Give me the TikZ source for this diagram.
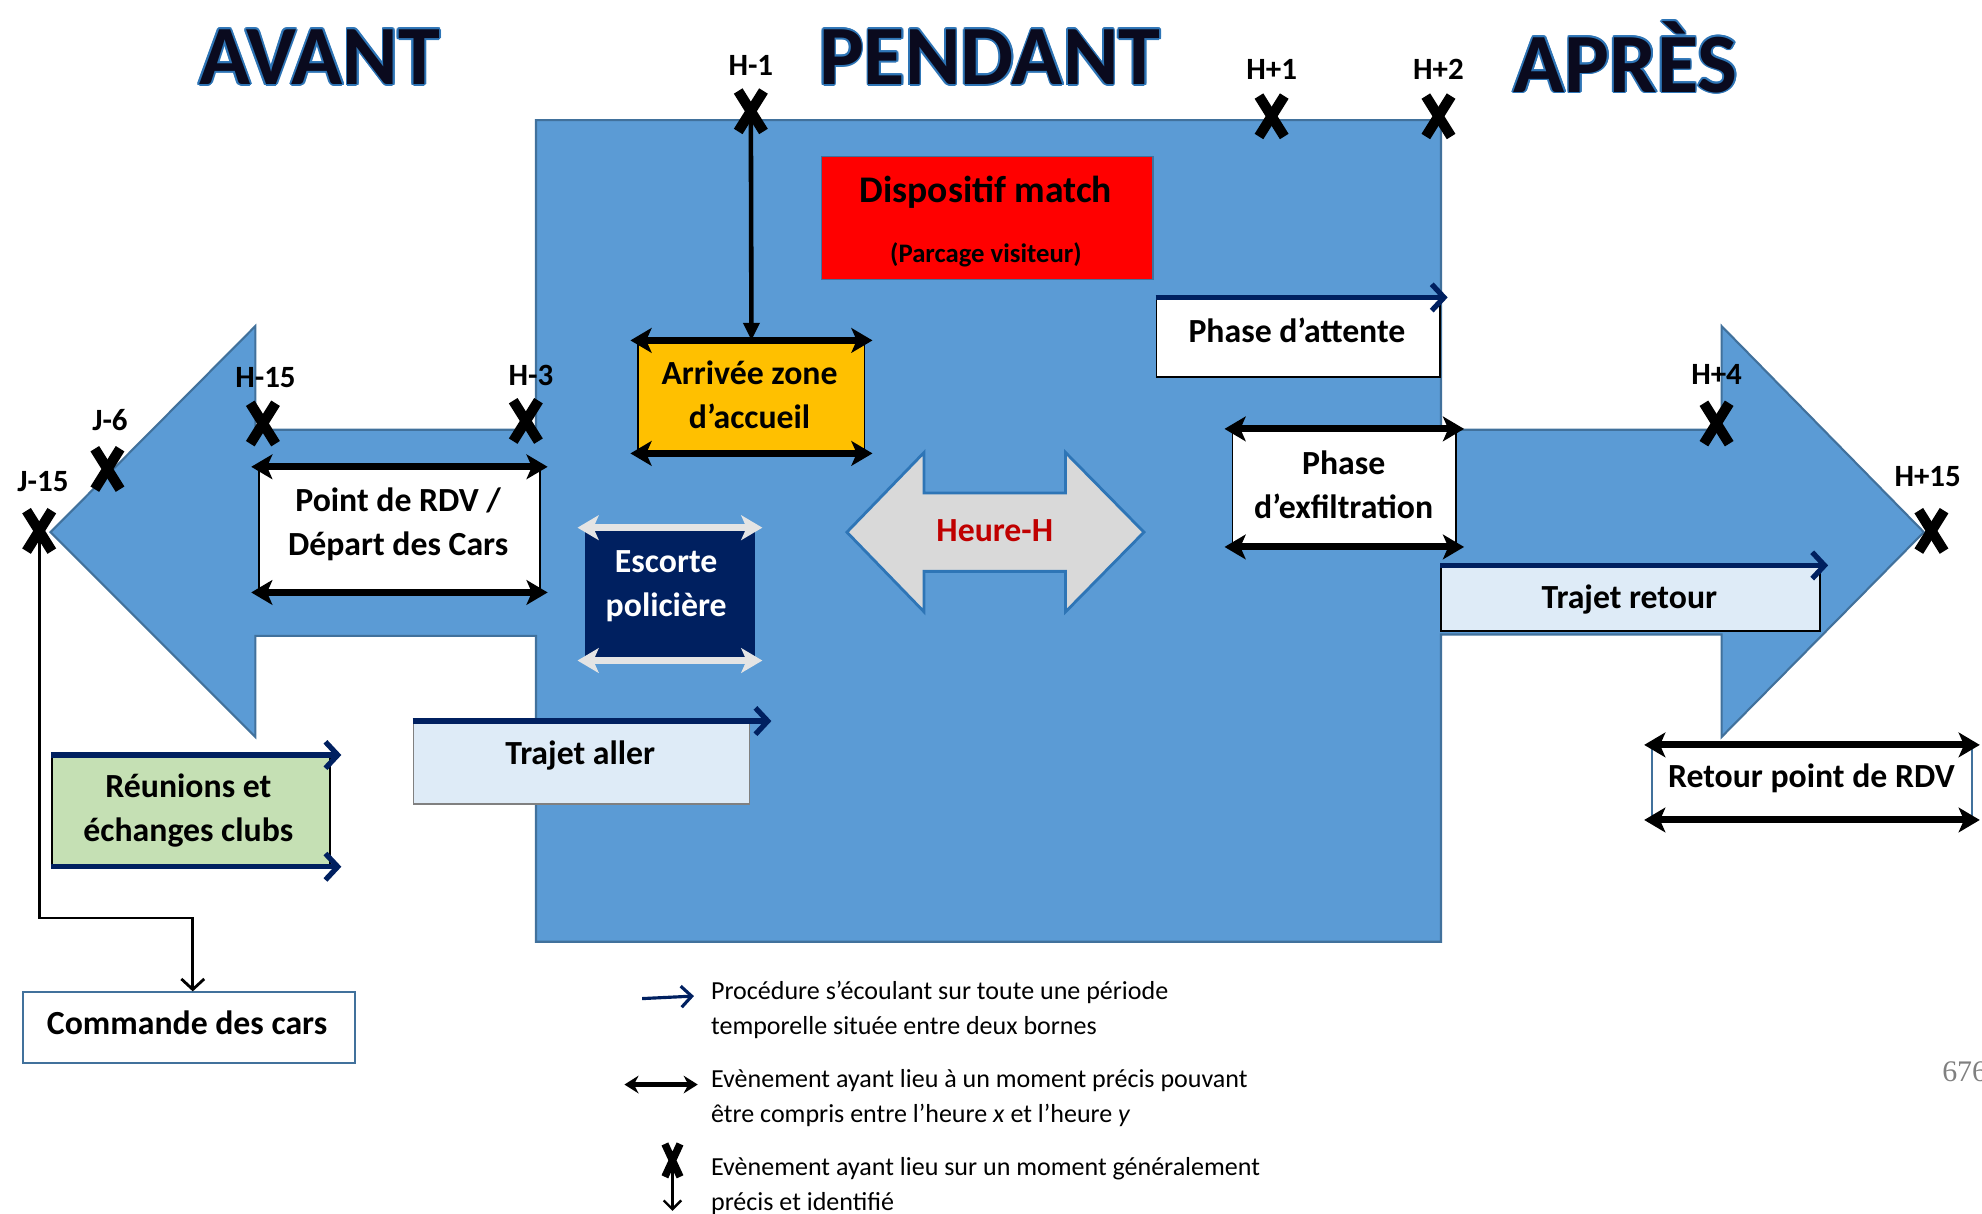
\documentclass[tikz,border=0pt]{standalone}
\usepackage{fontspec}
\setmainfont{Carlito}
\newfontfamily\pagefont{Liberation Serif}
\usetikzlibrary{arrows.meta,fit,calc}
\definecolor{bluefill}{HTML}{5B9BD5}
\definecolor{blueline}{HTML}{41719C}
\definecolor{navy}{HTML}{002060}
\definecolor{orangebox}{HTML}{FFC000}
\definecolor{lightblue}{HTML}{DEEBF7}
\definecolor{greenbox}{HTML}{C5E0B4}
\definecolor{grayshape}{HTML}{D9D9D9}
\definecolor{lightarrow}{HTML}{E4E4E4}
\definecolor{darkred}{HTML}{C00000}
\definecolor{glow}{HTML}{2E75B6}
\definecolor{titleink}{HTML}{0A0A1E}
\tikzset{
  boxtext/.style={font=\bfseries\fontsize{9.6}{12.5}\selectfont, align=center, inner sep=0pt},
  ticktext/.style={font=\bfseries\fontsize{8.8}{10}\selectfont, inner sep=0pt},
  titlefont/.style={font=\bfseries\fontsize{24}{28}\selectfont, inner sep=0pt},
  legendtext/.style={font=\fontsize{7.4}{10}\selectfont, align=left, anchor=west, inner sep=0pt},
  xline/.style={line width=2.9pt},
  evt/.style={line width=2pt, shorten <=-2pt, shorten >=-2pt,
    {Stealth[length=6pt,width=7pt,inset=1.5pt]}-{Stealth[length=6pt,width=7pt,inset=1.5pt]}},
  proc/.style={navy, line width=1.5pt, shorten >=-2pt, -{Straight Barb[length=3.5pt,width=7.5pt]}},
  boxframe/.style={draw=black, line width=0.5pt, inner sep=0pt},
  xm/.pic={\draw[xline] (-10,-16)--(10,16); \draw[xline] (10,-16)--(-10,16);},
}
\newcommand\glowtitle[3]{%
  \foreach \a in {0,30,...,330} {\node[titlefont, text=glow] at ($#2+(\a:1.4)$) {#3};}
  \node[titlefont, text=titleink] (#1) at #2 {#3};}
\begin{document}
\begin{tikzpicture}[x=0.01264cm,y=-0.01264cm]
\useasboundingbox (0,0) rectangle (1568,960);

% main blue shape
\path[draw=blueline, line width=0.6pt, fill=bluefill]
  (40,421) -- (202,258) -- (202,340) -- (424,340) -- (424,95) -- (1140,95)
  -- (1140,340) -- (1362,340) -- (1362,258) -- (1522,421) -- (1362,583)
  -- (1362,502) -- (1140,502) -- (1140,745) -- (424,745) -- (424,503)
  -- (202,503) -- (202,583) -- cycle;

% titles
\glowtitle{avant}{(253,45)}{AVANT}
\glowtitle{pendant}{(783,45)}{PENDANT}
\glowtitle{apres}{(1286,45)}{APRÈS}

% Dispositif match
\node[fit={(650,124)(912,221)}, inner sep=0pt, fill=red, draw=blueline, line width=0.4pt] (disp) {};
\node[font=\bfseries\fontsize{10.7}{12}\selectfont, inner sep=0pt] (dispt) at (780,152) {Dispositif match};
\node[font=\bfseries\fontsize{7.6}{9}\selectfont, inner sep=0pt] (disps) at (780,202) {(Parcage visiteur)};

% Heure-H
\path[fill=grayshape, draw=glow, line width=0.8pt]
  (670,421) -- (731,358) -- (731,390) -- (843,390) -- (843,358) -- (905,421)
  -- (843,484) -- (843,452) -- (731,452) -- (731,484) -- cycle;
\node[boxtext, text=darkred] (heure) at (787,420) {Heure-H};

% Arrivee zone d'accueil
\node[fit={(505,270)(684,358)}, boxframe, fill=orangebox] (arr) {};
\node[boxtext] (arrt) at (593,312) {Arrivée zone\\d’accueil};
\draw[evt] (arr.north west) -- (arr.north east);
\draw[evt] (arr.south west) -- (arr.south east);

% Escorte policiere
\node[fit={(463,418)(597,522)}, inner sep=0pt, fill=navy] (esc) {};
\node[boxtext, text=white] (esct) at (527,464) {Escorte\\policière};
\draw[evt, lightarrow] (esc.north west) -- (esc.north east);
\draw[evt, lightarrow] (esc.south west) -- (esc.south east);

% Point de RDV
\node[fit={(205,370)(427,468)}, boxframe, fill=white] (rdv) {};
\node[boxtext] (rdvt) at (315,414.5) {Point de RDV /\\Départ des Cars};
\draw[evt] (rdv.north west) -- (rdv.north east);
\draw[evt] (rdv.south west) -- (rdv.south east);

% Phase d'attente
\node[fit={(915,236)(1139,298)}, boxframe, fill=white] (att) {};
\node[boxtext] (attt) at (1026,261) {Phase d’attente};
\draw[proc] (att.north west) -- (att.north east);

% Phase d'exfiltration
\node[fit={(975,340)(1152,432)}, boxframe, fill=white] (exf) {};
\node[boxtext] (exft) at (1063,383.5) {Phase\\d’exfiltration};
\draw[evt] (exf.north west) -- (exf.north east);
\draw[evt] (exf.south west) -- (exf.south east);

% Trajet retour
\node[fit={(1140,448)(1440,499)}, boxframe, fill=lightblue] (tret) {};
\node[boxtext] (trett) at (1289,474) {Trajet retour};
\draw[proc] (tret.north west) -- (tret.north east);

% Retour point de RDV
\node[fit={(1307,590)(1560,648)}, inner sep=0pt, draw=blueline, line width=0.5pt, fill=white] (rret) {};
\node[boxtext] (rrett) at (1433,616) {Retour point de RDV};
\draw[evt] (rret.north west) -- (rret.north east);
\draw[evt] (rret.south west) -- (rret.south east);

% Trajet aller
\node[fit={(327,571)(593,636)}, inner sep=0pt, draw=gray, line width=0.4pt, fill=lightblue] (tall) {};
\node[boxtext] (tallt) at (459,598) {Trajet aller};
\draw[proc] (tall.north west) -- ([xshift=4pt]tall.north east);

% Reunions
\node[fit={(41,598)(261,685)}, boxframe, fill=greenbox] (reu) {};
\node[boxtext] (reut) at (149,641.5) {Réunions et\\échanges clubs};
\draw[proc] (reu.north west) -- ([xshift=1pt]reu.north east);
\draw[proc] (reu.south west) -- ([xshift=1pt]reu.south east);

% Commande des cars
\node[fit={(18,785)(281,841)}, inner sep=0pt, draw=blueline, line width=0.5pt, fill=white] (cmd) {};
\node[boxtext] (cmdt) at (148,809) {Commande des cars};

% cross markers
\coordinate (cHm1) at (594,88);
\coordinate (cHp1) at (1006,92);
\coordinate (cHp2) at (1138,92);
\coordinate (cHm15) at (208,335);
\coordinate (cHm3) at (416,333);
\coordinate (cJm6) at (85,371);
\coordinate (cJm15) at (31,420);
\coordinate (cHp4) at (1358,335);
\coordinate (cHp15) at (1528,420);

% connectors
\draw[line width=1.3pt, -{Triangle[length=5pt,width=4.5pt]}] (cHm1) -- (arr.north);
\draw[line width=0.8pt, -{Straight Barb[length=3pt,width=6.5pt]}]
  (cJm15) |- ($(cmd.north)+(3,-58)$) -- ($(cmd.north)+(3,0)$);

\foreach \c in {cHm1,cHp1,cHp2,cHm15,cHm3,cJm6,cJm15,cHp4,cHp15} {\pic at (\c) {xm};}

\node[ticktext] (lHm1) at (594,52) {H-1};
\node[ticktext] (lHp1) at (1006,55) {H+1};
\node[ticktext] (lHp2) at (1138,55) {H+2};
\node[ticktext] (lHm15) at (210,299) {H-15};
\node[ticktext] (lHm3) at (420,297) {H-3};
\node[ticktext] (lJm6) at (87,332) {J-6};
\node[ticktext] (lJm15) at (34,381) {J-15};
\node[ticktext] (lHp4) at (1358,296) {H+4};
\node[ticktext] (lHp15) at (1525,377) {H+15};

% legend
\coordinate (lga) at (508,790);
\coordinate (lgb) at (549,788);
\draw[navy, line width=0.9pt, -{Straight Barb[length=3pt,width=6pt]}] (lga) -- (lgb);
\node[legendtext] (lgt1) at (562,799) {Procédure s’écoulant sur toute une période\\temporelle située entre deux bornes};

\coordinate (lgc) at (494,858);
\coordinate (lgd) at (552,858);
\draw[line width=1.3pt, {Stealth[length=4pt,width=5pt]}-{Stealth[length=4pt,width=5pt]}] (lgc) -- (lgd);
\node[legendtext] (lgt2) at (562,869) {Evènement ayant lieu à un moment précis pouvant\\être compris entre l’heure \textit{x} et l’heure \textit{y}};

\coordinate (lge) at (532,918);
\coordinate (lgf) at (532,958);
\draw[line width=0.7pt, -{Straight Barb[length=2.5pt,width=5pt]}] (lge) -- (lgf);
\draw[line width=2.1pt] (526,905) -- (538,931) (538,905) -- (526,931);
\node[legendtext] (lgt3) at (562,938) {Evènement ayant lieu sur un moment généralement\\précis et identifié};

% page number
\node[font=\pagefont\fontsize{8.5}{10}\selectfont, text=gray, anchor=west, inner sep=0pt] (pg) at (1536,848) {676};
\end{tikzpicture}
\end{document}
